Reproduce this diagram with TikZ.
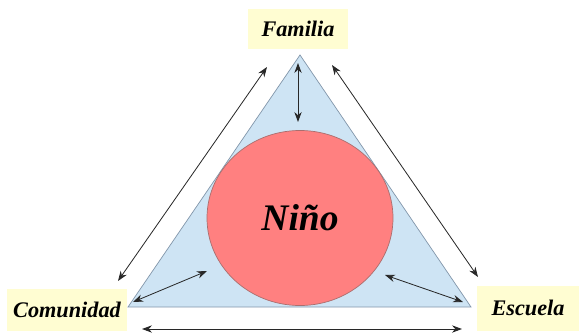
\documentclass[tikz,border=0pt]{standalone}
\usepackage{fontspec}
\setmainfont{Liberation Serif}
\usepackage{tikz}
\usetikzlibrary{arrows.meta,shapes.geometric,positioning}
\definecolor{trifill}{RGB}{206,228,244}
\definecolor{tridraw}{RGB}{130,150,170}
\definecolor{ninofill}{RGB}{255,128,128}
\definecolor{ninodraw}{RGB}{170,110,110}
\definecolor{lblfill}{RGB}{255,253,210}
\definecolor{arrcol}{RGB}{40,40,40}
\tikzset{
	lbl/.style = {rectangle, fill=lblfill, inner sep=2pt, text centered, font=\fontsize{19}{22}\selectfont\bfseries\itshape},
	tri/.style = {fill=trifill, draw=tridraw, line width=0.6pt},
	nino/.style = {ellipse, fill=ninofill, draw=ninodraw, line width=0.6pt, inner sep=0pt, minimum width=5.58cm, minimum height=5.25cm, font=\fontsize{32}{36}\selectfont\bfseries\itshape},
	rel/.style = {<->, draw=arrcol, line width=0.7pt}
}
\begin{document}
\begin{tikzpicture}[x=0.03cm, y=-0.03cm, >={Stealth[length=3mm,width=2.2mm]}]
\useasboundingbox (0,0) rectangle (579,335);
% triangle corners
\coordinate (apex) at (300,55);
\coordinate (bl) at (128,307);
\coordinate (br) at (471,307);
\filldraw [tri] (apex) -- (bl) -- (br) -- cycle;
\node [nino] (nino) at (300,218) {Niño};
% labels
\node [lbl, minimum width=3cm, minimum height=1.2cm] (familia) at (298,29) {Familia};
\node [lbl, minimum width=3.6cm, minimum height=1.25cm] (comunidad) at (67,310) {Comunidad};
\node [lbl, minimum width=3.05cm, minimum height=1.35cm] (escuela) at (528,308) {Escuela};
% arrow ends
\coordinate (fl) at (267,67);
\coordinate (cl) at (118,281);
\coordinate (fr) at (332,65);
\coordinate (er) at (478,277);
\coordinate (cb) at (142,329);
\coordinate (eb) at (462,329);
\coordinate (in1) at (298,63);
\coordinate (in2) at (298,122);
\coordinate (in3) at (133,302);
\coordinate (in4) at (207,271);
\coordinate (in5) at (385,275);
\coordinate (in6) at (463,302);
% outer relations
\draw [rel] (fl) -- (cl);
\draw [rel] (fr) -- (er);
\draw [rel] (cb) -- (eb);
% inner relations
\draw [rel] (in1) -- (in2);
\draw [rel] (in3) -- (in4);
\draw [rel] (in5) -- (in6);
\end{tikzpicture}
\end{document}
